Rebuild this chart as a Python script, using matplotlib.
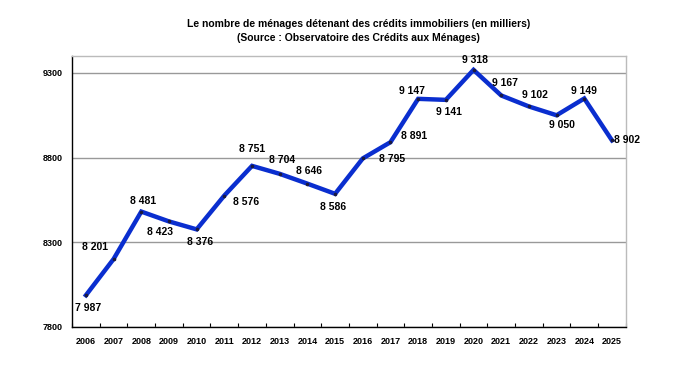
import matplotlib
matplotlib.use("Agg")
import matplotlib.pyplot as plt

plt.rcParams['font.family'] = ['Liberation Sans Narrow', 'Liberation Sans', 'DejaVu Sans']
plt.rcParams['font.weight'] = 'bold'

years = [str(y) for y in range(2006, 2026)]
menages = [7987, 8201, 8481, 8423, 8376, 8576, 8751, 8704, 8646, 8586,
           8795, 8891, 9147, 9141, 9318, 9167, 9102, 9050, 9149, 8902]

# label offsets from each point, in pixels (dx, dy, horizontal alignment)
label_off = [(2, -13, 'center'), (-19, 12, 'center'), (2, 11, 'center'), (-9, -11, 'center'),
             (3, -13, 'center'), (9, -6, 'left'), (0, 17, 'center'), (2, 14, 'center'),
             (2, 13, 'center'), (-2, -13, 'center'), (16, -1, 'left'), (11, 6, 'left'),
             (-6, 8, 'center'), (3, -12, 'center'), (1, 10, 'center'), (4, 12, 'center'),
             (6, 11, 'center'), (5, -10, 'center'), (0, 8, 'center'), (2, 0, 'left')]

fig = plt.figure(figsize=(6.93, 3.81), dpi=100)
ax = fig.add_axes([0.104, 0.142, 0.799, 0.711])

x = list(range(len(years)))
ax.plot(x, menages, color='#0a2ecf', lw=3.2, solid_joinstyle='miter', zorder=3)
ax.plot(x, menages, 'o', color='#1a1a40', ms=1.6, zorder=4)

for xi, v, (dx, dy, ha) in zip(x, menages, label_off):
    lab = f"{v:,}".replace(',', ' ')
    ax.annotate(lab, (xi, v), xytext=(dx, dy), textcoords='offset pixels',
                ha=ha, va='center', fontsize=7.5, fontweight='bold', zorder=5)

ax.set_xlim(-0.5, len(years) - 0.5)
ax.set_ylim(7800, 9400)
ax.set_yticks([7800, 8300, 8800, 9300])
ax.set_xticks(x)
ax.set_xticklabels(years)
ax.set_xticks([i - 0.5 for i in range(len(years) + 1)], minor=True)
ax.tick_params(axis='x', which='major', length=0, labelsize=6.5, pad=7)
ax.tick_params(axis='x', which='minor', length=3, direction='in', width=0.8)
ax.tick_params(axis='y', length=0, labelsize=6.5, pad=7)
ax.grid(axis='y', color='#999999', lw=1)
ax.set_axisbelow(True)
ax.spines['left'].set_color('black')
ax.spines['bottom'].set_color('black')
ax.spines['top'].set_color('#bbbbbb')
ax.spines['right'].set_color('#bbbbbb')
for s in ax.spines.values():
    s.set_linewidth(1)

fig.text(0.517, 0.918, "Le nombre de ménages détenant des crédits immobiliers (en milliers)\n"
         "(Source : Observatoire des Crédits aux Ménages)",
         ha='center', va='center', fontsize=7.5, fontweight='bold', linespacing=1.5)

fig.savefig('out.png', dpi=100)
